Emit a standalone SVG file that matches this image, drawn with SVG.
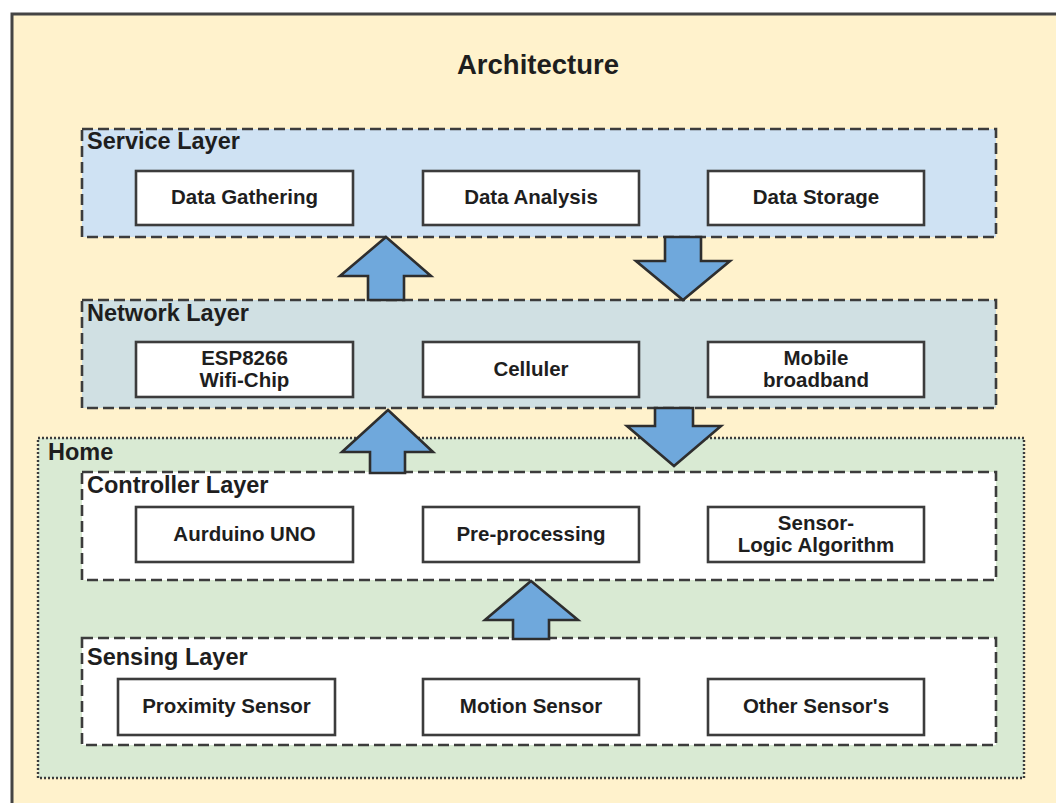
<svg xmlns="http://www.w3.org/2000/svg" width="1056" height="803" viewBox="0 0 1056 803">
  <style>
    .layer { stroke: #3c3c3c; stroke-width: 2.6; stroke-dasharray: 11 5; }
    .home { stroke: #3c3c3c; stroke-width: 2.4; stroke-dasharray: 2 2; }
    .box { fill: #ffffff; stroke: #3c3c3c; stroke-width: 2.6; }
    .arrow { fill: #6fa8dc; stroke: #2e2e2e; stroke-width: 2.6; stroke-linejoin: miter; }
    text { font-family: "Liberation Sans", Arial, sans-serif; font-weight: bold; fill: #1e1e1e; }
    .title { font-size: 27.5px; }
    .lbl { font-size: 23.5px; }
    .node { font-size: 20.5px; text-anchor: middle; }
  </style>

  <rect x="0" y="0" width="1056" height="803" fill="#ffffff"/>
  <!-- outer frame -->
  <rect x="12" y="14" width="1060" height="800" fill="#fff2cc" stroke="#444" stroke-width="3"/>
  <text class="title" x="538" y="74" text-anchor="middle">Architecture</text>

  <!-- Service layer -->
  <g id="service-layer">
    <rect class="layer" x="82" y="129" width="914" height="108" fill="#cfe2f3"/>
    <text class="lbl" x="87" y="149">Service Layer</text>
  </g>
  <g id="data-gathering">
    <rect class="box" x="136" y="171" width="217" height="54"/>
    <text class="node" x="244.5" y="204">Data Gathering</text>
  </g>
  <g id="data-analysis">
    <rect class="box" x="423" y="171" width="216" height="54"/>
    <text class="node" x="531" y="204">Data Analysis</text>
  </g>
  <g id="data-storage">
    <rect class="box" x="708" y="171" width="216" height="54"/>
    <text class="node" x="816" y="204">Data Storage</text>
  </g>

  <!-- Network layer -->
  <g id="network-layer">
    <rect class="layer" x="82" y="300" width="914" height="108" fill="#d0e0e3"/>
    <text class="lbl" x="87" y="321">Network Layer</text>
  </g>
  <g id="esp8266">
    <rect class="box" x="136" y="342" width="217" height="55"/>
    <text class="node" x="244.5" y="365">ESP8266</text>
    <text class="node" x="244.5" y="387">Wifi-Chip</text>
  </g>
  <g id="celluler">
    <rect class="box" x="423" y="342" width="216" height="55"/>
    <text class="node" x="531" y="376">Celluler</text>
  </g>
  <g id="mobile-broadband">
    <rect class="box" x="708" y="342" width="216" height="55"/>
    <text class="node" x="816" y="365">Mobile</text>
    <text class="node" x="816" y="387">broadband</text>
  </g>

  <!-- Home -->
  <g id="home">
    <rect class="home" x="38" y="438" width="986" height="340" fill="#d9ead3"/>
    <text class="lbl" x="48" y="460">Home</text>
  </g>

  <!-- Controller layer -->
  <g id="controller-layer">
    <rect class="layer" x="82" y="472" width="914" height="108" fill="#ffffff"/>
    <text class="lbl" x="87" y="493">Controller Layer</text>
  </g>
  <g id="arduino-uno">
    <rect class="box" x="136" y="507" width="217" height="55"/>
    <text class="node" x="244.5" y="541">Aurduino UNO</text>
  </g>
  <g id="pre-processing">
    <rect class="box" x="423" y="507" width="216" height="55"/>
    <text class="node" x="531" y="541">Pre-processing</text>
  </g>
  <g id="sensor-logic">
    <rect class="box" x="708" y="507" width="216" height="55"/>
    <text class="node" x="816" y="530">Sensor-</text>
    <text class="node" x="816" y="552">Logic Algorithm</text>
  </g>

  <!-- Sensing layer -->
  <g id="sensing-layer">
    <rect class="layer" x="82" y="638" width="914" height="107" fill="#ffffff"/>
    <text class="lbl" x="87" y="665">Sensing Layer</text>
  </g>
  <g id="proximity-sensor">
    <rect class="box" x="118" y="679" width="217" height="56"/>
    <text class="node" x="226.5" y="713">Proximity Sensor</text>
  </g>
  <g id="motion-sensor">
    <rect class="box" x="423" y="679" width="216" height="56"/>
    <text class="node" x="531" y="713">Motion Sensor</text>
  </g>
  <g id="other-sensors">
    <rect class="box" x="708" y="679" width="216" height="56"/>
    <text class="node" x="816" y="713">Other Sensor's</text>
  </g>

  <!-- block arrows between layers -->
  <g id="connectors">
    <polygon class="arrow" points="386,237 431,276 404,276 404,300 368,300 368,276 340,276"/>
    <polygon class="arrow" points="665,237 701,237 701,261 730,261 683,300 636,261 665,261"/>
    <polygon class="arrow" points="388,410 433,452 405,452 405,473 370,473 370,452 342,452"/>
    <polygon class="arrow" points="655,408 693,408 693,426 721,426 674,466 627,426 655,426"/>
    <polygon class="arrow" points="531,581 578,620 549,620 549,639 513,639 513,620 485,620"/>
  </g>
</svg>
